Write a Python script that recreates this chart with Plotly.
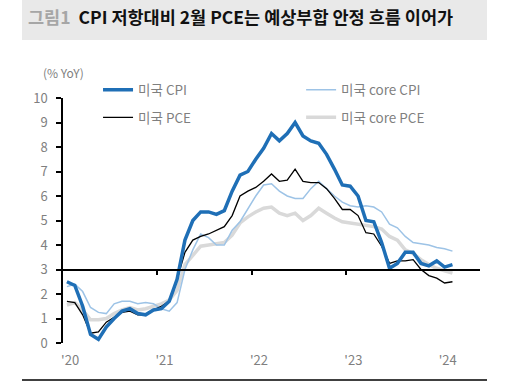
import plotly.graph_objects as go

# ---- data (monthly, Jan 2020 .. Feb 2024), % YoY ----
months = list(range(50))
cpi = [2.5, 2.35, 1.5, 0.35, 0.15, 0.65, 1.0, 1.3, 1.4, 1.2, 1.15, 1.35,
       1.4, 1.7, 2.6, 4.2, 5.0, 5.35, 5.35, 5.25, 5.4, 6.2, 6.85, 7.0,
       7.5, 7.95, 8.55, 8.25, 8.55, 9.0, 8.45, 8.25, 8.15, 7.7, 7.1, 6.45,
       6.4, 6.0, 5.0, 4.95, 4.1, 3.05, 3.25, 3.7, 3.7, 3.25, 3.15, 3.35,
       3.1, 3.2]
core_cpi = [2.3, 2.4, 2.1, 1.45, 1.25, 1.2, 1.6, 1.7, 1.7, 1.6, 1.65, 1.6,
            1.4, 1.3, 1.65, 3.0, 3.8, 4.45, 4.3, 4.0, 4.0, 4.6, 4.95, 5.5,
            6.0, 6.45, 6.5, 6.2, 6.0, 5.9, 5.9, 6.3, 6.6, 6.3, 6.0, 5.75,
            5.6, 5.55, 5.6, 5.55, 5.35, 4.85, 4.7, 4.35, 4.1, 4.05, 4.0, 3.9,
            3.85, 3.75]
pce = [1.7, 1.65, 1.15, 0.4, 0.45, 0.85, 1.05, 1.25, 1.3, 1.15, 1.15, 1.35,
       1.5, 1.7, 2.6, 3.7, 4.2, 4.35, 4.45, 4.6, 4.75, 5.2, 6.0, 6.2,
       6.35, 6.6, 6.9, 6.6, 6.65, 7.1, 6.6, 6.55, 6.55, 6.3, 5.9, 5.45,
       5.45, 5.2, 4.5, 4.45, 3.95, 3.25, 3.35, 3.35, 3.4, 3.0, 2.75, 2.65,
       2.45, 2.5]
core_pce = [1.55, 1.65, 1.35, 0.95, 0.95, 1.0, 1.2, 1.35, 1.45, 1.35, 1.4, 1.5,
            1.6, 1.75, 2.15, 3.2, 3.6, 3.95, 4.0, 4.05, 4.1, 4.4, 4.9, 5.15,
            5.35, 5.5, 5.55, 5.3, 5.2, 5.3, 5.0, 5.2, 5.5, 5.3, 5.1, 4.95,
            4.9, 4.85, 4.8, 4.75, 4.65, 4.35, 4.2, 3.8, 3.65, 3.4, 3.2, 3.05,
            2.95, 2.85]

year_ticks = [0.4, 12.4, 24.4, 36.4, 48.4]
year_labels = ["'20", "'21", "'22", "'23", "'24"]
year_bounds = [11.5, 23.5, 35.5]

FONT = "Noto Sans CJK KR"
GRAY = "#7f7f7f"

fig = go.Figure()

fig.add_trace(go.Scatter(x=months, y=core_pce, mode="lines", name="미국 core PCE",
                         line=dict(color="#d9d9d9", width=3.5),
                         legend="legend2", legendgroup="d", legendrank=2))
fig.add_trace(go.Scatter(x=months, y=core_cpi, mode="lines", name="미국 core CPI",
                         line=dict(color="#9dc3e6", width=1.5),
                         legend="legend2", legendgroup="c", legendrank=1))
fig.add_trace(go.Scatter(x=months, y=pce, mode="lines", name="미국 PCE",
                         line=dict(color="#000000", width=1.3),
                         legend="legend", legendgroup="b", legendrank=2))
fig.add_trace(go.Scatter(x=months, y=cpi, mode="lines", name="미국 CPI",
                         line=dict(color="#1f6fb6", width=3.5),
                         legend="legend", legendgroup="a", legendrank=1))
# invisible trace to activate the crossing axis at y=3
fig.add_trace(go.Scatter(x=[None], y=[None], xaxis="x2", showlegend=False,
                         hoverinfo="skip"))

fig.update_layout(
    width=513, height=382, autosize=False,
    margin=dict(l=63, r=33, t=98, b=39),
    paper_bgcolor="white", plot_bgcolor="white",
    font=dict(family=FONT, size=13, color=GRAY),
    xaxis=dict(range=[-0.5, 52.5], showline=False, zeroline=False, showgrid=False,
               tickvals=year_ticks, ticktext=year_labels, ticks="outside",
               ticklen=5, tickcolor="rgba(0,0,0,0)",
               tickfont=dict(family=FONT, size=13, color=GRAY)),
    xaxis2=dict(range=[-0.5, 52.5], overlaying="x", anchor="free", position=0.3,
                showline=True, linecolor="black", linewidth=1.5, zeroline=False,
                showgrid=False, tickvals=year_bounds, ticks="outside", ticklen=5,
                tickwidth=1.5, tickcolor="black", showticklabels=False),
    yaxis=dict(range=[0, 10], dtick=1, showline=True, linecolor="black",
               linewidth=1.5, zeroline=False, showgrid=False, ticks="outside",
               ticklen=5, tickwidth=1.5, tickcolor="black",
               ticklabelstandoff=6,
               tickfont=dict(family=FONT, size=13, color=GRAY)),
    legend=dict(x=0.084, y=1.096, xanchor="left", yanchor="top",
                orientation="v", tracegroupgap=7, bgcolor="rgba(0,0,0,0)",
                font=dict(family=FONT, size=13.5, color=GRAY)),
    legend2=dict(x=0.571, y=1.096, xanchor="left", yanchor="top",
                 orientation="v", tracegroupgap=7, bgcolor="rgba(0,0,0,0)",
                 font=dict(family=FONT, size=13.5, color=GRAY)),
    showlegend=True,
)

# title band
fig.add_shape(type="rect", xref="paper", yref="paper",
              x0=(22 - 63) / 417, x1=(487 - 63) / 417,
              y0=1 + (98 - 40) / 245, y1=1 + 98 / 245,
              fillcolor="#e9e9e9", line=dict(width=0), layer="below")
fig.add_annotation(xref="paper", yref="paper", x=(26 - 63) / 417, y=1 + (98 - 16) / 245,
                   xanchor="left", yanchor="middle", showarrow=False,
                   text="<b><span style='color:#a6a6a6'>그림1</span>  CPI 저항대비 2월 PCE는 예상부합 안정 흐름 이어가</b>",
                   font=dict(family=FONT, size=17.5, color="#111111"))
# unit label
fig.add_annotation(xref="paper", yref="paper", x=(63 - 63) / 417, y=1 + (98 - 72) / 245,
                   xanchor="center", yanchor="middle", showarrow=False,
                   text="(% YoY)", font=dict(family=FONT, size=12, color=GRAY))
# bottom rule
fig.add_shape(type="line", xref="paper", yref="paper",
              x0=(22 - 63) / 417, x1=(487 - 63) / 417,
              y0=-(380 - 343) / 245, y1=-(380 - 343) / 245,
              line=dict(color="black", width=1.5))

fig.write_html("out.html", config={"displayModeBar": False},
               post_script="document.body.style.margin='0';document.body.style.overflow='hidden';")
